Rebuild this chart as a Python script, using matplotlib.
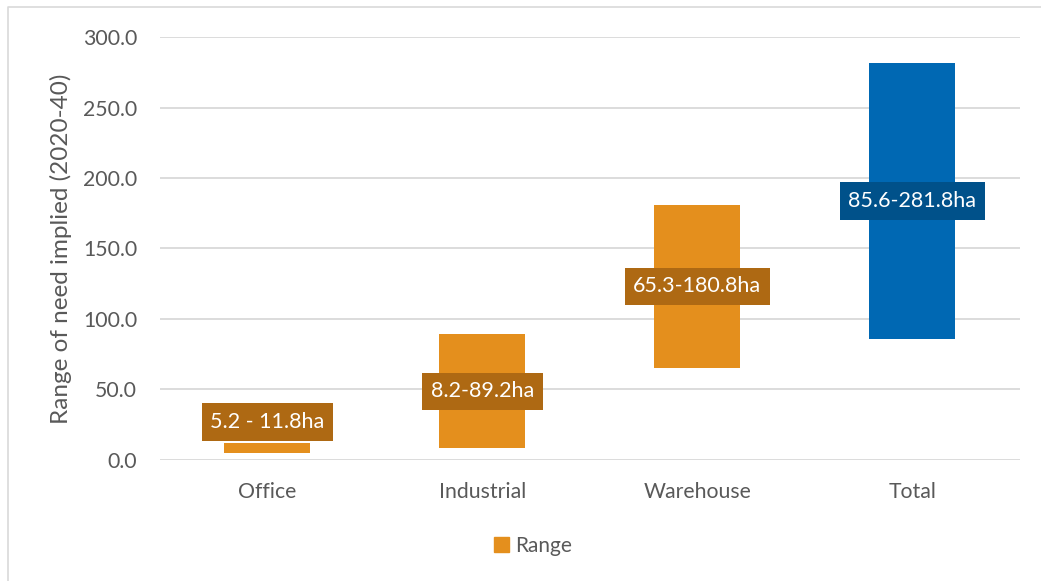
import numpy as np
import matplotlib.pyplot as plt
from matplotlib.lines import Line2D
from matplotlib.patches import Patch

plt.rcParams['font.family'] = ['Lato', 'DejaVu Sans']

# land need ranges (ha), 2020-40
categories = ['Office', 'Industrial', 'Warehouse', 'Total']
low = [5.2, 8.2, 65.3, 85.6]
high = [11.8, 89.2, 180.8, 281.8]
labels = ['5.2 - 11.8ha', '8.2-89.2ha', '65.3-180.8ha', '85.6-281.8ha']

orange = '#E48F1D'
orange_dark = '#AE6913'
blue = '#0068B3'
blue_dark = '#00518A'
bar_colors = [orange, orange, orange, blue]
box_colors = [orange_dark, orange_dark, orange_dark, blue_dark]

fig = plt.figure(figsize=(10.41, 5.81), dpi=100)
ax = fig.add_axes([0.1537, 0.2083, 0.826, 0.728])

x = np.arange(len(categories))
low_a = np.array(low)
high_a = np.array(high)
ax.bar(x, high_a - low_a, bottom=low_a, width=0.4, color=bar_colors, zorder=2)

# labels sit at the middle of each range; the office one is nudged above its thin bar
label_y = (low_a + high_a) / 2
label_y[0] = 27
for xi, yi, txt, bc in zip(x, label_y, labels, box_colors):
    ax.text(xi, yi, txt, ha='center', va='center', color='white', fontsize=15.5,
            zorder=3, bbox=dict(boxstyle='square,pad=0.4', fc=bc, ec='none'))

ax.set_xlim(-0.5, 3.5)
ax.set_ylim(0, 300)
ax.set_yticks(np.arange(0, 301, 50))
ax.set_yticklabels([f'{v:.1f}' for v in np.arange(0, 301, 50)])
ax.set_xticks(x)
ax.set_xticklabels(categories)
ax.tick_params(axis='both', length=0, labelsize=15.3, colors='#595959')
ax.tick_params(axis='y', pad=16.5)
ax.tick_params(axis='x', pad=16)
ax.grid(axis='y', color='#D9D9D9', linewidth=1.3, zorder=0)
for s in ax.spines.values():
    s.set_visible(False)
ax.set_ylabel('Range of need implied (2020-40)', fontsize=17.5, color='#595959', labelpad=8)

fig.legend(handles=[Patch(color=orange, label='Range')], loc='center',
           bbox_to_anchor=(533 / 1041, 1 - 546 / 581), frameon=False, fontsize=15,
           labelcolor='#595959', handlelength=0.7, handleheight=0.7, handletextpad=0.3)

# chart border (only top and left edges fall inside the image)
fig.lines.append(Line2D([8 / 1041, 8 / 1041, 1.0], [0.0, 1 - 7 / 581, 1 - 7 / 581],
                        transform=fig.transFigure, color='#D9D9D9', lw=1.2))

fig.savefig('out.png', dpi=100)
